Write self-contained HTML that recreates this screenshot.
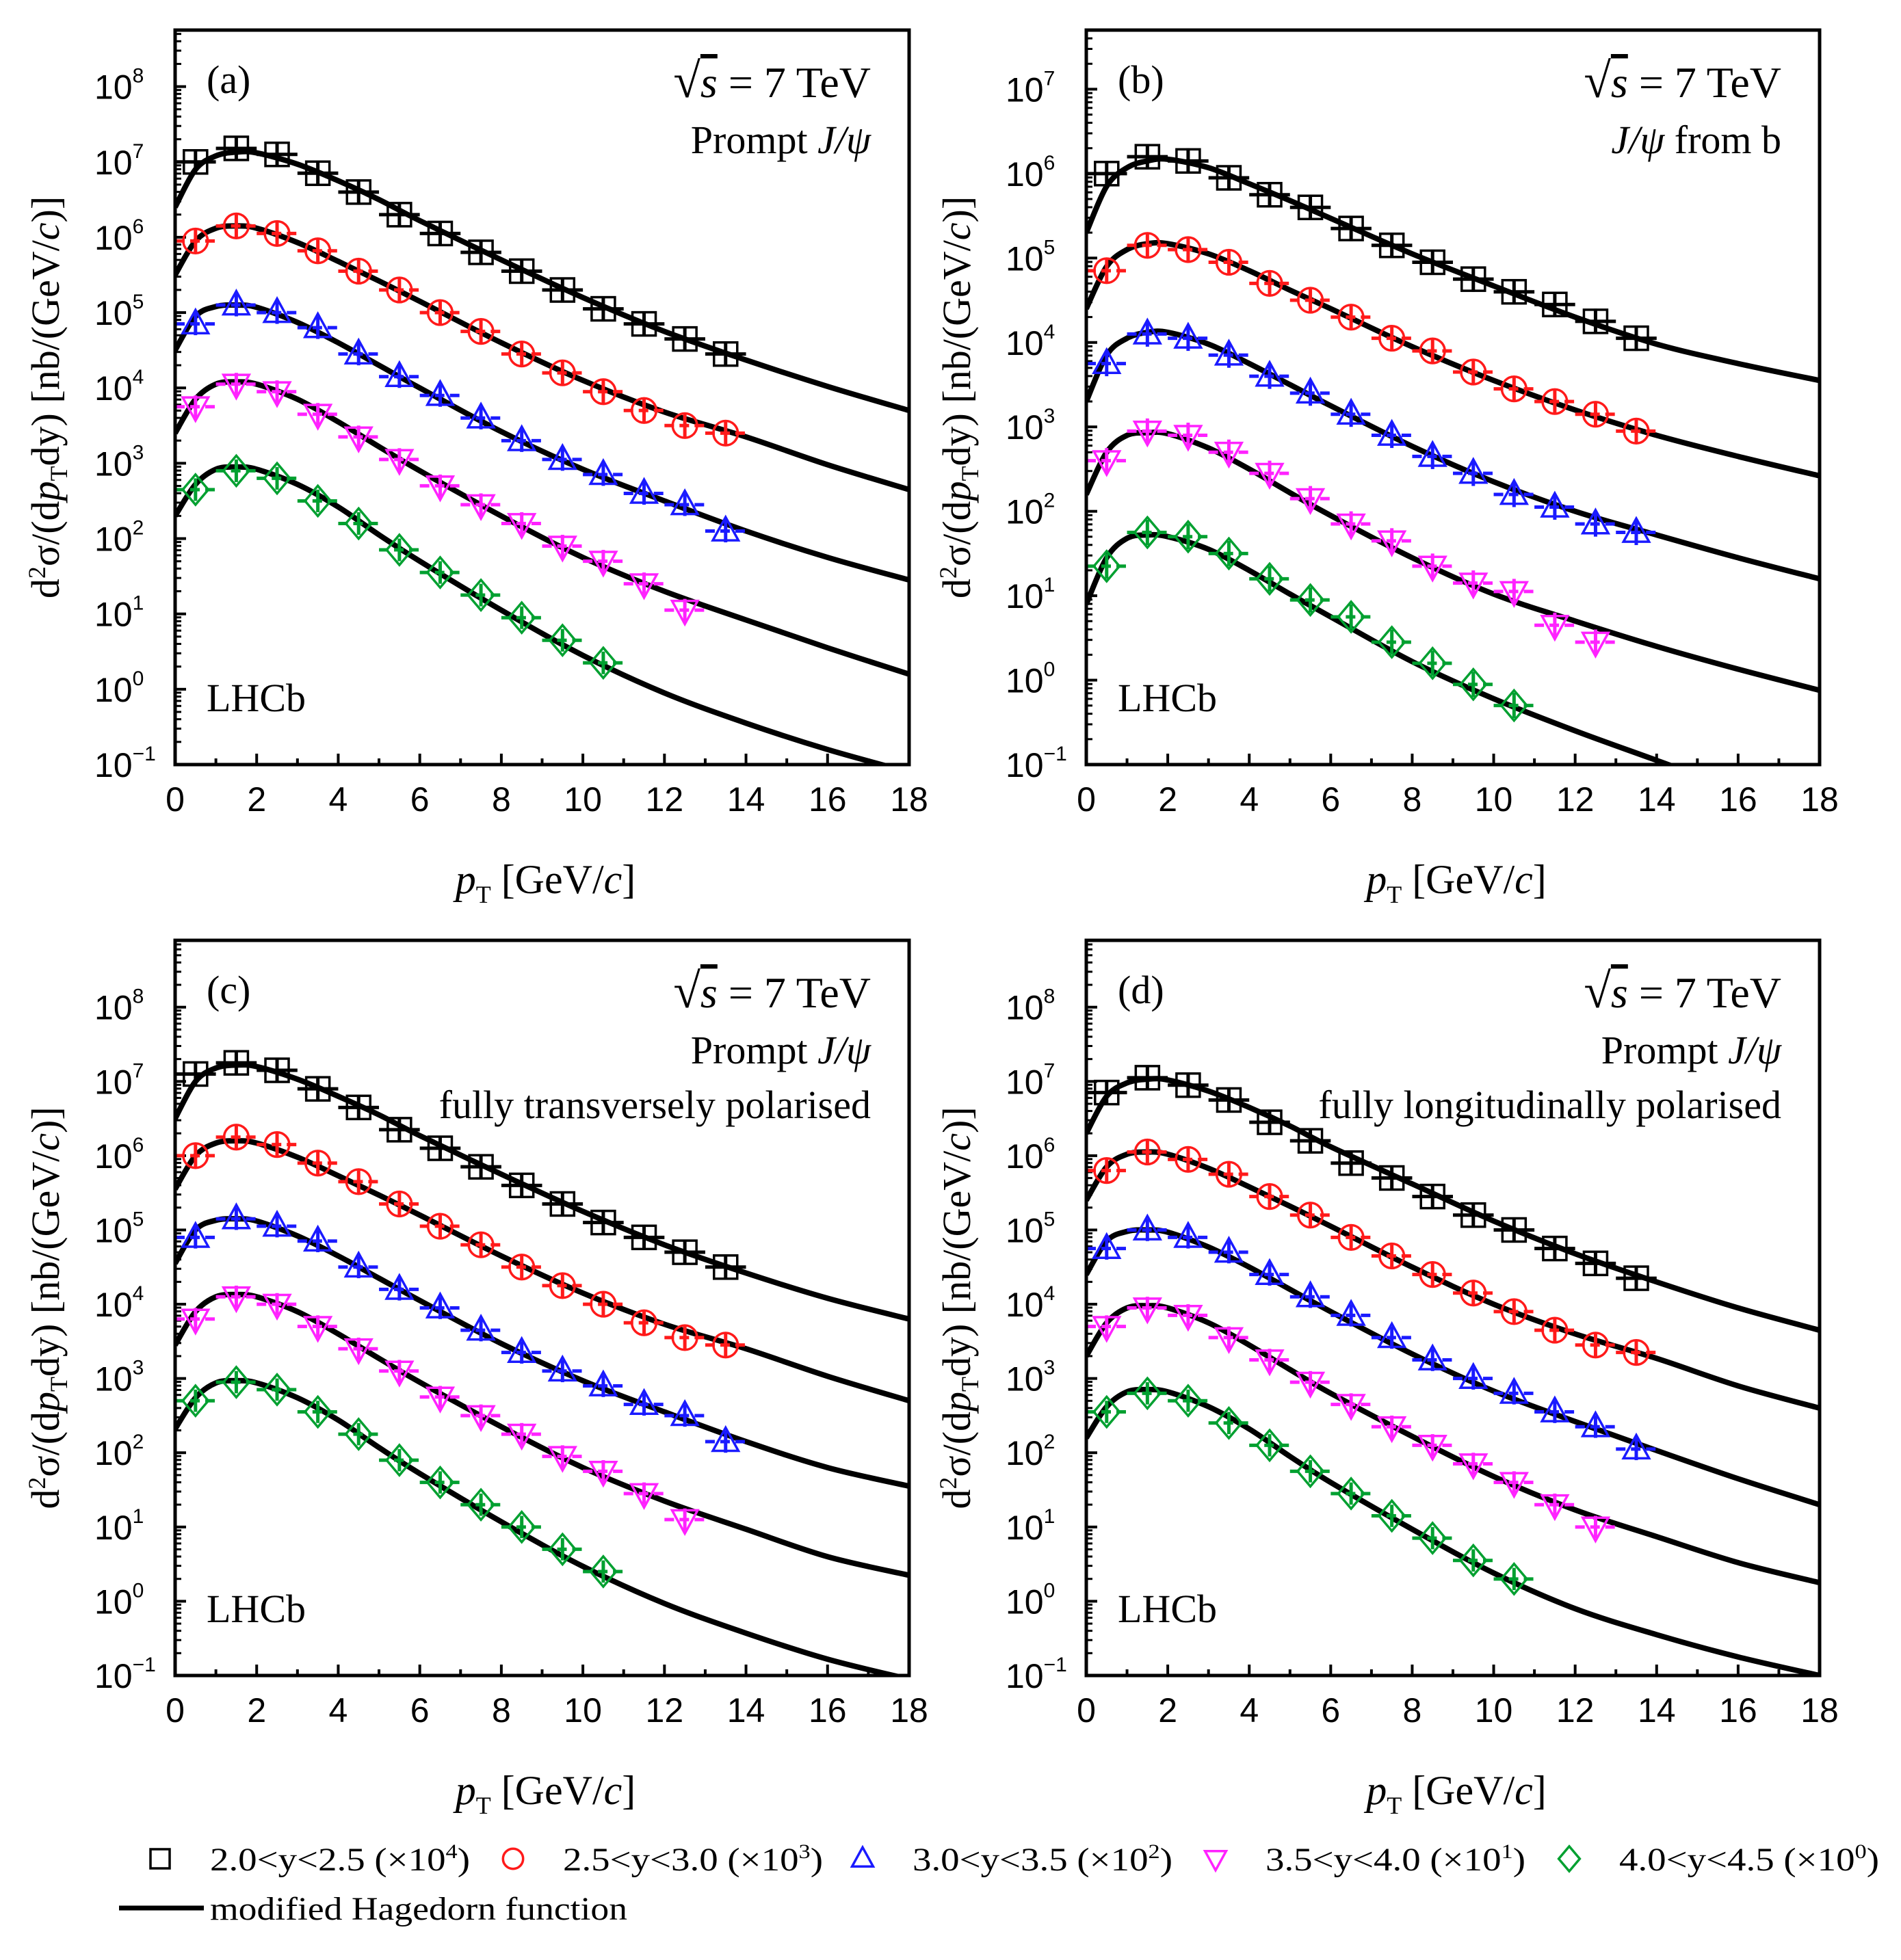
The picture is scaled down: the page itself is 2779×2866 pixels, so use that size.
<!DOCTYPE html>
<html><head><meta charset="utf-8">
<style>
body{margin:0;background:#fff;}
svg{display:block;}
.tk{font-family:"Liberation Sans",sans-serif;font-size:50px;fill:#000;}
.sr{font-family:"Liberation Serif",serif;fill:#000;}
</style></head>
<body>
<svg id="fig" width="2779" height="2866" viewBox="0 0 2779 2866" xmlns="http://www.w3.org/2000/svg"></svg>
<script>
// shared x data
const binCenters=[0.5,1.5,2.5,3.5,4.5,5.5,6.5,7.5,8.5,9.5,10.5,11.5,12.5,13.5];
const curveX=[0,0.5,1,1.5,2,3,4,5,6,8,10,12,14,16,18];
const xTicks=[0,2,4,6,8,10,12,14,16,18];
const seriesNames=["2.0<y<2.5","2.5<y<3.0","3.0<y<3.5","3.5<y<4.0","4.0<y<4.5"];
// Panel a (log10 values)
const aData=[[7.0,7.18,7.1,6.85,6.6,6.3,6.05,5.8,5.55,5.3,5.05,4.85,4.65,4.45],
[5.95,6.15,6.05,5.82,5.55,5.3,5.0,4.75,4.45,4.2,3.95,3.7,3.5,3.4],
[4.85,5.1,5.0,4.8,4.45,4.15,3.9,3.6,3.3,3.05,2.85,2.6,2.45,2.1],
[3.75,4.05,3.95,3.65,3.35,3.05,2.7,2.45,2.2,1.9,1.7,1.4,1.05],
[2.65,2.9,2.8,2.5,2.2,1.85,1.55,1.25,0.95,0.65,0.35]];
const aCurve=[[6.4,6.9,7.08,7.13,7.12,6.97,6.75,6.5,6.22,5.7,5.2,4.75,4.37,4.02,3.7],
[5.5,5.95,6.12,6.15,6.12,5.93,5.68,5.42,5.15,4.6,4.1,3.68,3.35,2.98,2.65],
[4.5,4.95,5.08,5.1,5.07,4.87,4.6,4.3,4.0,3.42,2.92,2.5,2.1,1.75,1.45],
[3.4,3.85,4.05,4.08,4.05,3.85,3.55,3.22,2.9,2.3,1.75,1.3,0.92,0.55,0.2],
[2.3,2.72,2.92,2.95,2.92,2.72,2.42,2.05,1.7,1.05,0.45,-0.05,-0.45,-0.8,-1.1]];
// Panel b
const bData=[[6.0,6.2,6.15,5.95,5.75,5.6,5.35,5.15,4.95,4.75,4.6,4.45,4.25,4.05],
[4.85,5.15,5.1,4.95,4.7,4.5,4.3,4.05,3.9,3.65,3.45,3.3,3.15,2.95],
[3.75,4.1,4.05,3.85,3.6,3.4,3.15,2.9,2.65,2.45,2.2,2.05,1.85,1.75],
[2.6,2.95,2.9,2.7,2.45,2.15,1.85,1.65,1.35,1.15,1.05,0.65,0.45],
[1.35,1.75,1.7,1.5,1.2,0.95,0.75,0.45,0.2,-0.05,-0.3]];
const bCurve=[[5.3,5.85,6.07,6.15,6.17,6.07,5.88,5.68,5.47,5.05,4.67,4.3,3.98,3.75,3.55],
[4.4,4.9,5.1,5.17,5.17,5.05,4.85,4.62,4.4,3.95,3.55,3.2,2.9,2.65,2.42],
[3.3,3.85,4.05,4.12,4.12,3.98,3.75,3.5,3.25,2.77,2.35,2.0,1.72,1.45,1.2],
[2.2,2.7,2.9,2.93,2.92,2.75,2.5,2.22,1.95,1.45,1.02,0.7,0.4,0.13,-0.12],
[0.9,1.45,1.68,1.72,1.7,1.55,1.3,1.02,0.75,0.22,-0.22,-0.6,-0.95,-1.3,-1.6]];
// Panel c
const cData=[[7.1,7.25,7.15,6.9,6.65,6.35,6.1,5.85,5.6,5.35,5.1,4.9,4.7,4.5],
[6.0,6.25,6.15,5.9,5.65,5.35,5.05,4.8,4.5,4.25,4.0,3.75,3.55,3.45],
[4.9,5.15,5.05,4.85,4.5,4.2,3.95,3.65,3.35,3.1,2.9,2.65,2.5,2.15],
[3.8,4.1,4.0,3.7,3.4,3.1,2.75,2.5,2.25,1.95,1.75,1.45,1.1],
[2.7,2.95,2.85,2.55,2.25,1.9,1.6,1.3,1.0,0.7,0.4]];
const cCurve=[[6.5,7.0,7.18,7.22,7.2,7.03,6.8,6.55,6.27,5.75,5.25,4.8,4.42,4.08,3.8],
[5.55,6.0,6.17,6.2,6.17,5.98,5.73,5.47,5.2,4.65,4.15,3.73,3.4,3.03,2.7],
[4.55,5.0,5.13,5.15,5.12,4.92,4.65,4.35,4.05,3.47,2.97,2.55,2.15,1.8,1.55],
[3.45,3.9,4.1,4.13,4.1,3.9,3.6,3.27,2.95,2.35,1.8,1.35,0.97,0.6,0.35],
[2.32,2.74,2.94,2.97,2.94,2.74,2.44,2.07,1.72,1.07,0.47,-0.03,-0.43,-0.78,-1.05]];
// Panel d
const dData=[[6.85,7.05,6.95,6.75,6.45,6.2,5.9,5.7,5.45,5.2,5.0,4.75,4.55,4.35],
[5.8,6.05,5.95,5.75,5.45,5.2,4.9,4.65,4.4,4.15,3.9,3.65,3.45,3.35],
[4.75,5.0,4.9,4.7,4.4,4.1,3.85,3.55,3.25,3.0,2.8,2.55,2.35,2.05],
[3.7,3.95,3.85,3.55,3.25,2.95,2.65,2.35,2.1,1.85,1.6,1.3,1.0],
[2.55,2.8,2.7,2.4,2.1,1.75,1.45,1.15,0.85,0.55,0.3]];
const dCurve=[[6.3,6.8,6.98,7.03,7.02,6.87,6.65,6.4,6.12,5.62,5.12,4.68,4.3,3.95,3.65],
[5.4,5.85,6.02,6.05,6.02,5.83,5.58,5.32,5.05,4.5,4.0,3.6,3.27,2.9,2.6],
[4.4,4.85,4.98,5.0,4.97,4.77,4.5,4.2,3.9,3.33,2.83,2.42,2.03,1.65,1.3],
[3.3,3.75,3.95,3.98,3.95,3.75,3.45,3.12,2.8,2.22,1.68,1.23,0.87,0.52,0.25],
[2.2,2.62,2.82,2.85,2.82,2.62,2.32,1.95,1.6,0.97,0.38,-0.1,-0.45,-0.75,-1.0]];

const NS="http://www.w3.org/2000/svg";
const svg=document.getElementById('fig');
const colors=["#000","#ff1a1a","#1a1aff","#ff22ff","#00a030"];
const markers=["square","circle","up","down","diamond"];
function mk(tag,attrs,parent){const e=document.createElementNS(NS,tag);for(const k in attrs)e.setAttribute(k,attrs[k]);(parent||svg).appendChild(e);return e;}
function markerShape(type,cx,cy,r,col,g){
  let e;
  if(type==="square")e=mk('rect',{x:cx-r,y:cy-r,width:2*r,height:2*r,fill:'none',stroke:col,'stroke-width':3.5},g);
  else if(type==="circle")e=mk('circle',{cx:cx,cy:cy,r:r*1.05,fill:'none',stroke:col,'stroke-width':3.5},g);
  else if(type==="up")e=mk('polygon',{points:`${cx},${cy-r*1.2} ${cx-r*1.1},${cy+r*0.8} ${cx+r*1.1},${cy+r*0.8}`,fill:'none',stroke:col,'stroke-width':3.5},g);
  else if(type==="down")e=mk('polygon',{points:`${cx},${cy+r*1.2} ${cx-r*1.1},${cy-r*0.8} ${cx+r*1.1},${cy-r*0.8}`,fill:'none',stroke:col,'stroke-width':3.5},g);
  else e=mk('polygon',{points:`${cx},${cy-r*1.3} ${cx+r*1.1},${cy} ${cx},${cy+r*1.3} ${cx-r*1.1},${cy}`,fill:'none',stroke:col,'stroke-width':3.5},g);
  return e;
}
function panel(id,L,R,T,B,ymin,ymax,data,curve,labels){
  const g=mk('g',{});
  
  
  const xs=v=>L+(v-0)/(18-0)*(R-L);
  const ys=lv=>B-(lv-ymin)/(ymax-ymin)*(B-T);
  const clip=mk('clipPath',{id:'clip'+id},g);mk('rect',{x:L,y:T,width:R-L,height:B-T},clip);
  for(let v=0;v<=18;v++){const len=v%2===0?16:9;mk('line',{x1:xs(v),x2:xs(v),y1:B,y2:B-len,stroke:'#000','stroke-width':4},g);}
  xTicks.forEach(v=>{const t=mk('text',{x:xs(v),y:B+68,'text-anchor':'middle',class:'tk'},g);t.textContent=v;
    
    });
  for(let d=Math.ceil(ymin);d<=Math.floor(ymax);d++){
    mk('line',{x1:L,x2:L+16,y1:ys(d),y2:ys(d),stroke:'#000','stroke-width':4},g);
    const t=mk('text',{x:L-118,y:ys(d)+18,class:'tk'},g);
    
    
    t.innerHTML='10<tspan font-size="30" dy="-24">'+(d<0?'\u2212'+(-d):d)+'</tspan>';
    for(let m=2;m<=9;m++){const lv=d+Math.log10(m);if(lv<ymax)mk('line',{x1:L,x2:L+9,y1:ys(lv),y2:ys(lv),stroke:'#000','stroke-width':3},g);}
  }
  curve.forEach((c,si)=>{
    const pts=curveX.map((x,i)=>[xs(x),ys(c[i])]);
    let dstr=`M${pts[0][0]},${pts[0][1]}`;
    for(let i=0;i<pts.length-1;i++){const p0=pts[Math.max(0,i-1)],p1=pts[i],p2=pts[i+1],p3=pts[Math.min(pts.length-1,i+2)];
      dstr+=` C${p1[0]+(p2[0]-p0[0])/6},${p1[1]+(p2[1]-p0[1])/6} ${p2[0]-(p3[0]-p1[0])/6},${p2[1]-(p3[1]-p1[1])/6} ${p2[0]},${p2[1]}`;}
    const p=mk('path',{d:dstr,fill:'none',stroke:'#000','stroke-width':8,'clip-path':`url(#clip${id})`},g);
    
    
  });
  data.forEach((arr,si)=>{
    const col=colors[si];
    arr.forEach((lv,i)=>{
      const x=binCenters[i];const cx=xs(x),cy=ys(lv);
      mk('line',{x1:xs(x-0.5),x2:xs(x+0.5),y1:cy,y2:cy,stroke:col,'stroke-width':5,'stroke-dasharray':si===0?'none':'14 8'},g);
      mk('line',{x1:cx,x2:cx,y1:ys(lv+0.15),y2:ys(lv-0.15),stroke:col,'stroke-width':5},g);
      const m=markerShape(markers[si],cx,cy,17,col,g);
      
      
    });
  });
  const fr=mk('rect',{x:L,y:T,width:R-L,height:B-T,fill:'none',stroke:'#000','stroke-width':5},g);
  
  
  const tl=mk('text',{x:L+46,y:T+92,class:'sr','font-size':'58'},g);tl.textContent='('+id+')';
  
  
  const rs=mk('text',{x:R-56,y:T+98,'text-anchor':'end',class:'sr','font-size':'64'},g);
  rs.innerHTML='<tspan font-size="72">√</tspan><tspan font-style="italic" text-decoration="overline">s</tspan> = 7 TeV';
  
  
  labels.forEach((l,k)=>{const t=mk('text',{x:R-56,y:T+180+k*80,'text-anchor':'end',class:'sr','font-size':'58'},g);t.innerHTML=l;
    
    });
  const lh=mk('text',{x:L+46,y:B-78,class:'sr','font-size':'58'},g);lh.textContent='LHCb';
  
  
  const xt=mk('text',{x:(L+R)/2+5,y:B+188,'text-anchor':'middle',class:'sr','font-size':'60'},g);
  xt.innerHTML='<tspan font-style="italic">p</tspan><tspan font-size="36" dy="14">T</tspan><tspan dy="-14"> [GeV/</tspan><tspan font-style="italic">c</tspan>]';
  
  
  const yt=mk('text',{x:0,y:0,'text-anchor':'middle',class:'sr','font-size':'58',transform:`translate(${L-170},${(T+B)/2}) rotate(-90)`},g);
  yt.innerHTML='d<tspan font-size="36" dy="-20">2</tspan><tspan dy="20">σ/(d</tspan><tspan font-style="italic">p</tspan><tspan font-size="36" dy="12">T</tspan><tspan dy="-12">dy) [nb/(GeV/</tspan><tspan font-style="italic">c</tspan>)]';
  
  
}
panel('a',256,1329,44,1118,-1,8.75,aData,aCurve,['Prompt <tspan font-style="italic">J/ψ</tspan>']);
panel('b',1588,2660,44,1118,-1,7.7,bData,bCurve,['<tspan font-style="italic">J/ψ</tspan> from b']);
panel('c',256,1329,1375,2450,-1,8.9,cData,cCurve,['Prompt <tspan font-style="italic">J/ψ</tspan>','fully transversely polarised']);
panel('d',1588,2660,1375,2450,-1,8.9,dData,dCurve,['Prompt <tspan font-style="italic">J/ψ</tspan>','fully longitudinally polarised']);
const legX=[234,750,1261,1777,2294];
const legExp=["4","3","2","1","0"];
const lg=mk('g',{});


seriesNames.forEach((n,i)=>{
  const m=markerShape(markers[i],legX[i],2718,14,colors[i],lg);
  
  
  const t=mk('text',{x:legX[i]+73,y:2735,class:'sr','font-size':'48',textLength:'380',lengthAdjust:'spacingAndGlyphs'},lg);
  t.innerHTML=n.replace(/</g,'&lt;')+' (×10<tspan font-size="30" dy="-18">'+legExp[i]+'</tspan><tspan dy="18">)</tspan>';
  
  
});
mk('line',{x1:174,x2:298,y1:2790,y2:2790,stroke:'#000','stroke-width':7},lg);
const lt=mk('text',{x:307,y:2807,class:'sr','font-size':'48',textLength:'610',lengthAdjust:'spacingAndGlyphs'},lg);
lt.textContent='modified Hagedorn function';


</script>
</body></html>
